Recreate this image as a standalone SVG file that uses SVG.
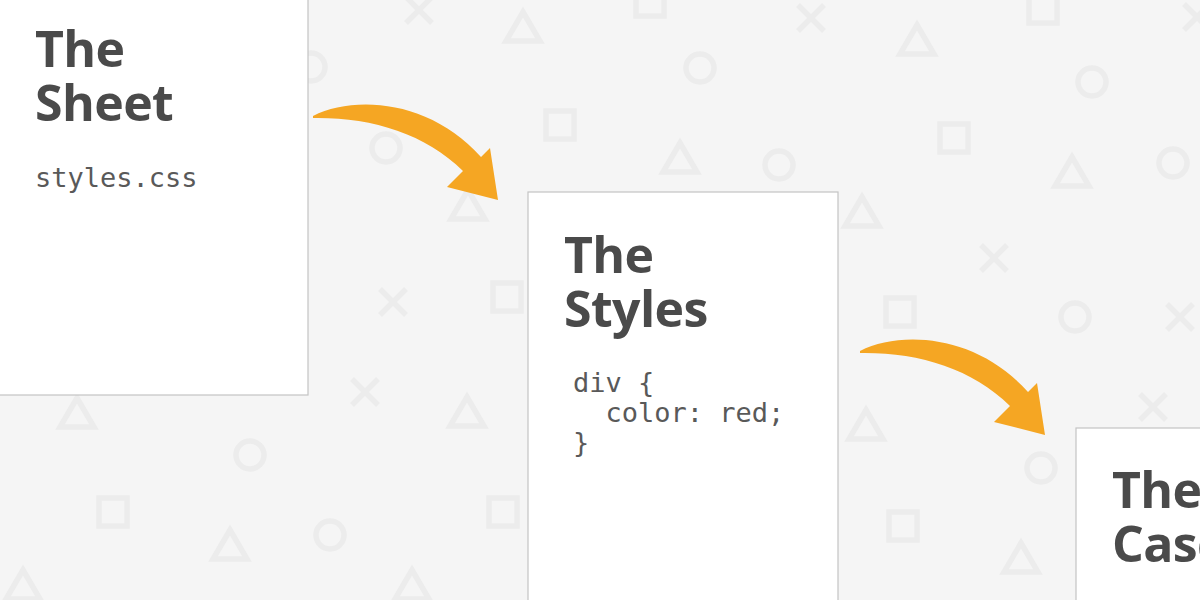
<svg xmlns="http://www.w3.org/2000/svg" xmlns:xlink="http://www.w3.org/1999/xlink" width="1200" height="600" viewBox="0 0 1200 600">
  <style>
    .bgs { fill: none; stroke: #ececec; stroke-width: 5.5; }
    .card { fill: #ffffff; stroke: #c4c4c4; stroke-width: 1.2; }
    .title { font-family: "Open Sans", "Liberation Sans", sans-serif; font-weight: 700; font-size: 50px; letter-spacing: -0.6px; fill: #4a4a4a; }
    .code { font-family: "DejaVu Sans Mono", "Liberation Mono", monospace; font-size: 27px; fill: #595959; }
    .arrow { fill: #f5a623; }
  </style>
  <defs>
    <path id="tri" class="bgs" d="M0 -15 L17 14 L-17 14 Z" stroke-linejoin="miter"/>
    <circle id="cir" class="bgs" r="14"/>
    <rect id="sq" class="bgs" x="-14" y="-14" width="28" height="28"/>
    <path id="xx" class="bgs" d="M-13 -13 L13 13 M13 -13 L-13 13"/>
    <path id="arrowShape" d="M313 116 C355 95 430 100 481 157 L490 148 L498 200 L447 187 L463 171 C425 133 370 117 313 118 Z"/>
  </defs>

  <rect x="0" y="0" width="1200" height="600" fill="#f5f5f5"/>

  <g id="background-shapes">
    <use xlink:href="#tri" x="523" y="27"/>
    <use xlink:href="#tri" x="917" y="40"/>
    <use xlink:href="#tri" x="680" y="158"/>
    <use xlink:href="#tri" x="1072" y="172"/>
    <use xlink:href="#tri" x="468" y="205"/>
    <use xlink:href="#tri" x="862" y="212"/>
    <use xlink:href="#tri" x="77" y="413"/>
    <use xlink:href="#tri" x="467" y="412"/>
    <use xlink:href="#tri" x="866" y="425"/>
    <use xlink:href="#tri" x="230" y="545"/>
    <use xlink:href="#tri" x="23" y="585"/>
    <use xlink:href="#tri" x="412" y="585"/>
    <use xlink:href="#tri" x="1021" y="558"/>

    <use xlink:href="#cir" x="311" y="67"/>
    <use xlink:href="#cir" x="700" y="68"/>
    <use xlink:href="#cir" x="1092" y="82"/>
    <use xlink:href="#cir" x="386" y="148"/>
    <use xlink:href="#cir" x="779" y="165"/>
    <use xlink:href="#cir" x="1173" y="163"/>
    <use xlink:href="#cir" x="1075" y="317"/>
    <use xlink:href="#cir" x="250" y="455"/>
    <use xlink:href="#cir" x="330" y="535"/>
    <use xlink:href="#cir" x="1041" y="468"/>

    <use xlink:href="#sq" x="650" y="2"/>
    <use xlink:href="#sq" x="1043" y="9"/>
    <use xlink:href="#sq" x="560" y="125"/>
    <use xlink:href="#sq" x="954" y="138"/>
    <use xlink:href="#sq" x="900" y="312"/>
    <use xlink:href="#sq" x="507" y="297"/>
    <use xlink:href="#sq" x="113" y="512"/>
    <use xlink:href="#sq" x="503" y="512"/>
    <use xlink:href="#sq" x="903" y="526"/>

    <use xlink:href="#xx" x="419" y="10"/>
    <use xlink:href="#xx" x="811" y="18"/>
    <use xlink:href="#xx" x="1197" y="17"/>
    <use xlink:href="#xx" x="994" y="258"/>
    <use xlink:href="#xx" x="393" y="302"/>
    <use xlink:href="#xx" x="365" y="392"/>
    <use xlink:href="#xx" x="1180" y="317"/>
    <use xlink:href="#xx" x="1153" y="407"/>
  </g>

  <g id="node-sheet">
    <rect class="card" x="-2" y="-45" width="310" height="440"/>
    <text class="title" x="35" y="67">The</text>
    <text class="title" x="35" y="121">Sheet</text>
    <text class="code" x="35" y="187">styles.css</text>
  </g>

  <g id="node-styles">
    <rect class="card" x="528" y="192" width="310" height="440"/>
    <text class="title" x="564" y="273">The</text>
    <text class="title" x="564" y="327">Styles</text>
    <text class="code" x="573" y="392">div {</text>
    <text class="code" x="573" y="422" xml:space="preserve">  color: red;</text>
    <text class="code" x="573" y="452">}</text>
  </g>

  <g id="node-cascade">
    <rect class="card" x="1076" y="428" width="310" height="440"/>
    <text class="title" x="1112" y="508">The</text>
    <text class="title" x="1112" y="562">Cascade</text>
  </g>

  <g id="connectors">
    <use xlink:href="#arrowShape" class="arrow"/>
    <use xlink:href="#arrowShape" class="arrow" transform="translate(547 235)"/>
  </g>
</svg>
